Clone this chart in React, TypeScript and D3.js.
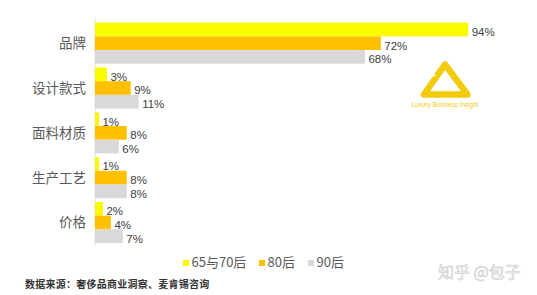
import React from "react";
import * as d3 from "d3";

const categories = ["品牌", "设计款式", "面料材质", "生产工艺", "价格"];
const seriesNames = ["65与70后", "80后", "90后"];
const values6570 = [94, 3, 1, 1, 2];
const values80 = [72, 9, 8, 8, 4];
const values90 = [68, 11, 6, 8, 7];
const colors = ["#FAFA00", "#FFC000", "#D9D9D9"];
const sourceText = "数据来源：奢侈品商业洞察、麦肯锡咨询";
const watermark = "知乎 @包子";
const logoText = "Luxury Business Insight";

const W = 537;
const H = 295;

export default function App() {
  const series = [values6570, values80, values90];
  const x = d3.scaleLinear().domain([0, 100]).range([95, 95 + 397]);
  const y = d3
    .scaleBand<string>()
    .domain(categories)
    .range([22.7, 243])
    .paddingInner(0.085)
    .paddingOuter(0);
  const inner = d3
    .scaleBand<number>()
    .domain([0, 1, 2])
    .range([0, y.bandwidth()])
    .padding(0);

  const cjk = "'Noto Sans CJK SC', 'Noto Sans', sans-serif";
  const latin = "'Liberation Sans', Arial, sans-serif";
  const logoColor = "#F2CC0C";

  const legendX = [183, 259, 308];

  return (
    <svg
      width={W}
      height={H}
      style={{ position: "absolute", left: 0, top: 0, background: "#fff" }}
    >
      <rect x={0} y={0} width={W} height={H} fill="#fff" />
      {/* axis line */}
      <line x1={x(0)} x2={x(0)} y1={17} y2={247} stroke="#e3e3e3" strokeWidth={1} />

      {categories.map((c, i) => (
        <g key={c}>
          <text
            x={86}
            y={(y(c) as number) + y.bandwidth() / 2 + 5}
            textAnchor="end"
            fontFamily={cjk}
            fontSize={13.5}
            fill="#595959"
          >
            {c}
          </text>
          {series.map((s, j) => {
            const by = (y(c) as number) + (inner(j) as number);
            return (
              <g key={j}>
                <rect
                  x={x(0)}
                  y={by}
                  width={x(s[i]) - x(0)}
                  height={inner.bandwidth()}
                  fill={colors[j]}
                />
                <text
                  x={x(s[i]) + 3.5}
                  y={by + inner.bandwidth() - 0.5}
                  fontFamily={latin}
                  fontSize={11.5}
                  fill="#404040"
                >
                  {s[i] + "%"}
                </text>
              </g>
            );
          })}
        </g>
      ))}

      {/* logo */}
      <path
        d="M445,64.5 L424,94.5 L467.5,94.5 Z"
        fill="none"
        stroke={logoColor}
        strokeWidth={6.5}
        strokeLinejoin="round"
      />
      <line x1={430} x2={436} y1={77} y2={75} stroke="#fff" strokeWidth={1.3} />
      <text
        x={445}
        y={107}
        textAnchor="middle"
        fontFamily={latin}
        fontSize={6.3}
        fill={logoColor}
      >
        {logoText}
      </text>

      {/* legend */}
      {seriesNames.map((n, j) => (
        <g key={n}>
          <rect x={legendX[j]} y={260} width={6} height={6} fill={colors[j]} />
          <text
            x={legendX[j] + 8.5}
            y={267}
            fontFamily={cjk}
            fontSize={13}
            fill="#595959"
          >
            {n}
          </text>
        </g>
      ))}

      {/* source */}
      <text
        x={25}
        y={288}
        fontFamily={cjk}
        fontSize={10}
        fontWeight={600}
        letterSpacing={0.25}
        fill="#333"
      >
        {sourceText}
      </text>

      {/* watermark */}
      <text
        x={438}
        y={278}
        fontFamily={cjk}
        fontSize={16}
        fill="#f2f2f2"
        stroke="#c8c8c8"
        strokeWidth={0.5}
      >
        {watermark}
      </text>
    </svg>
  );
}
